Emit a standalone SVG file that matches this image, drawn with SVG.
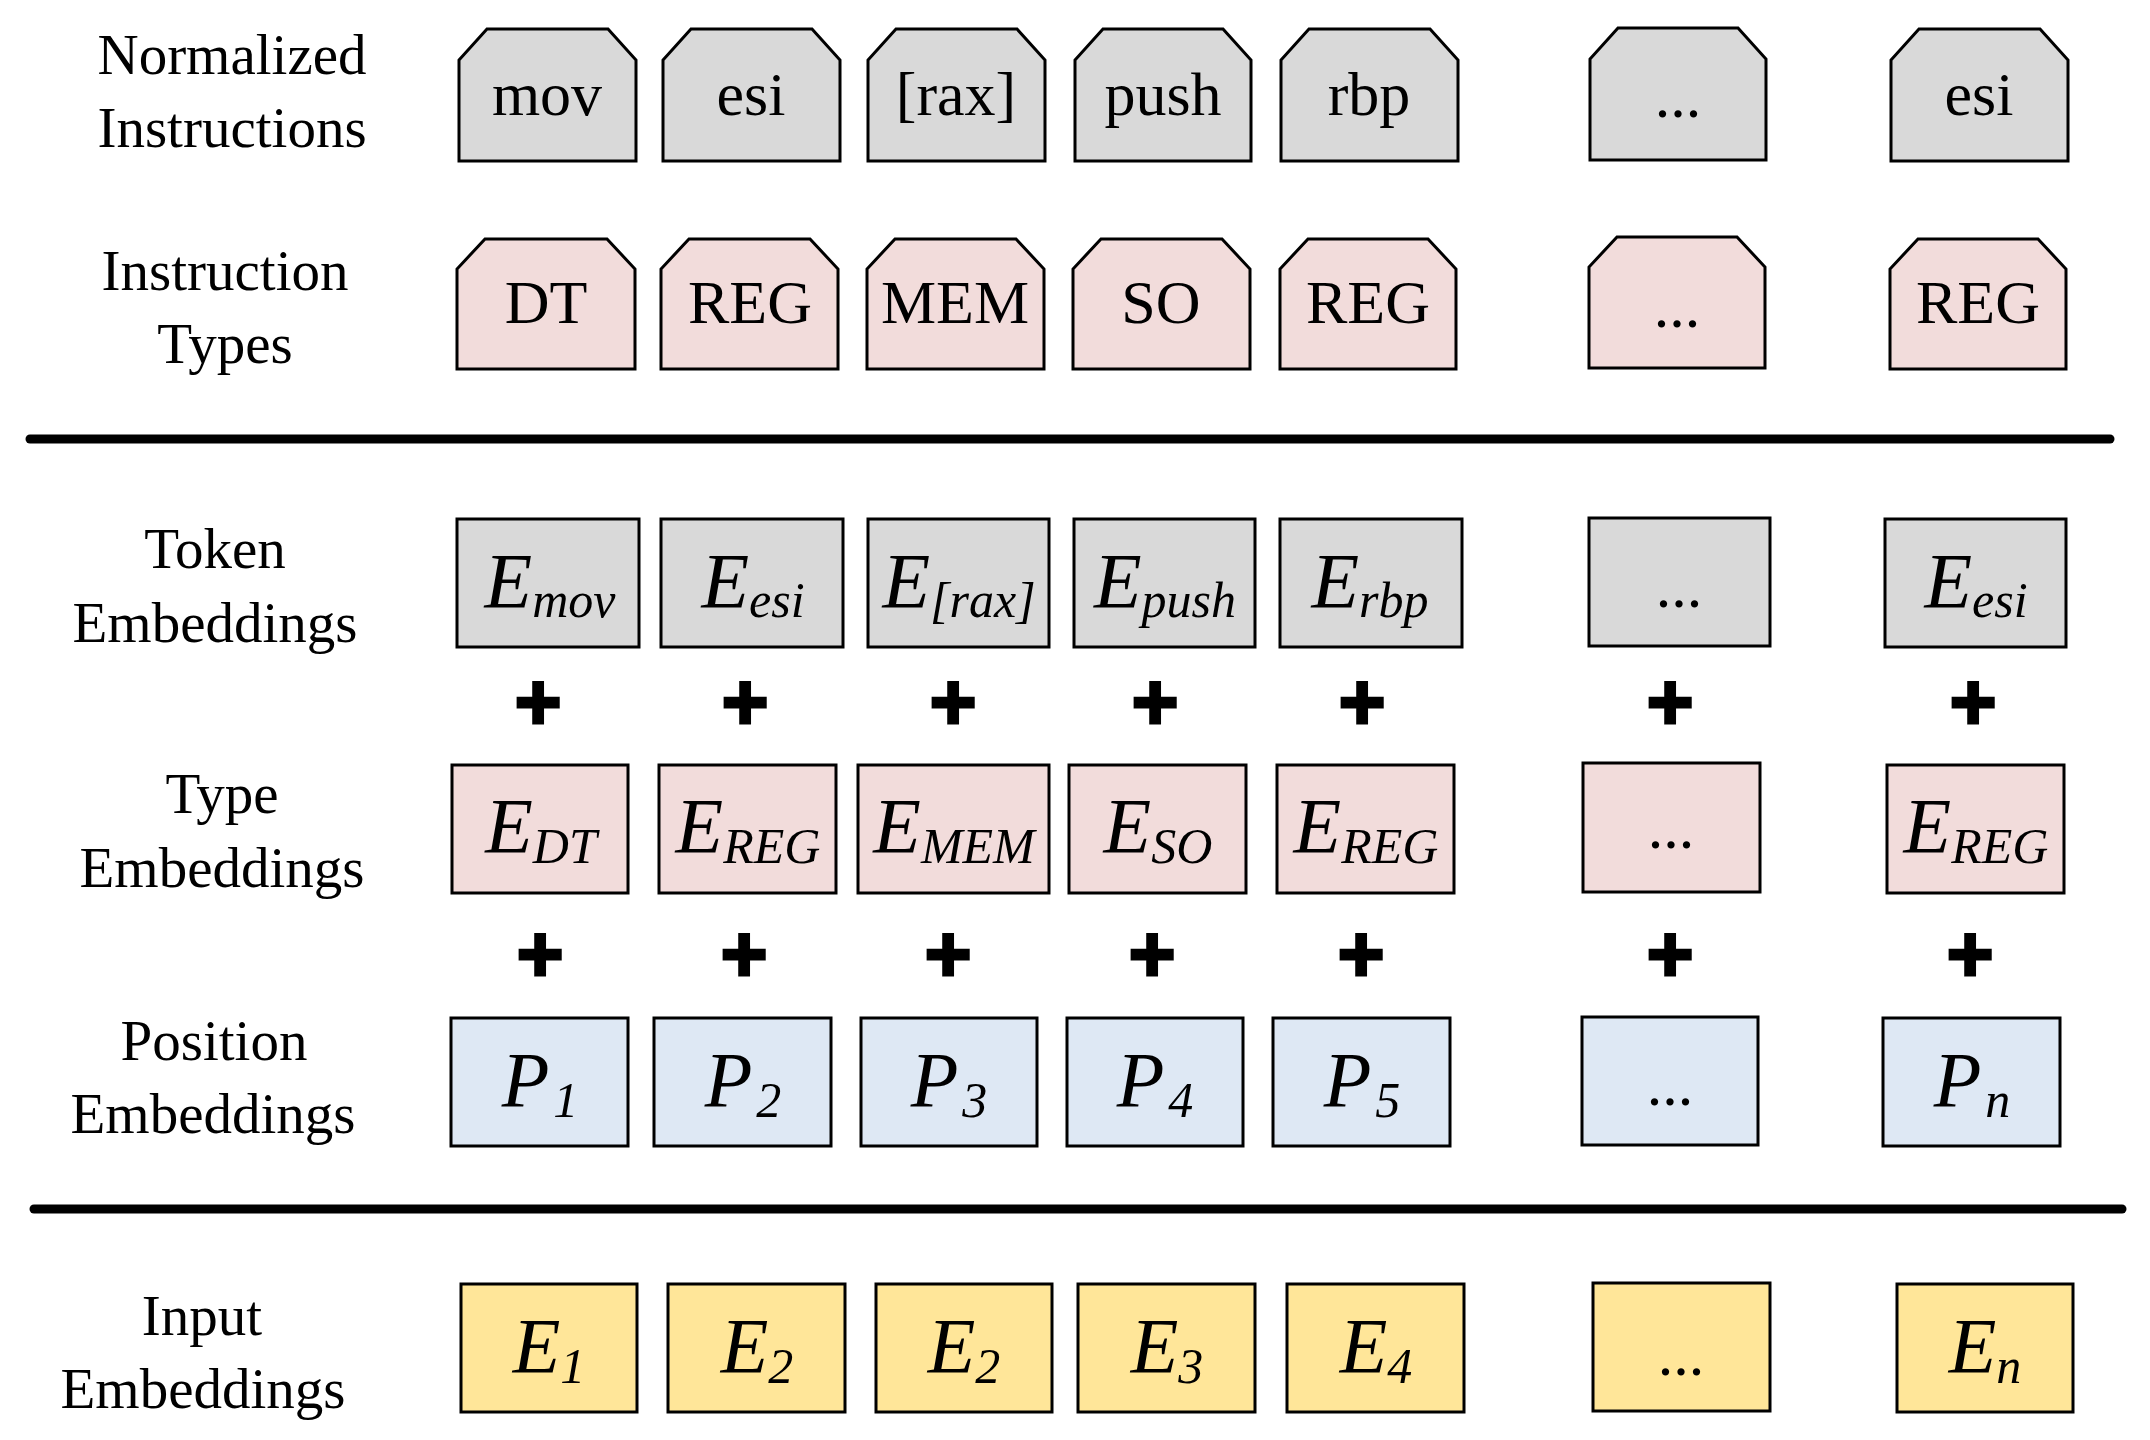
<svg xmlns="http://www.w3.org/2000/svg" width="2150" height="1440" viewBox="0 0 2150 1440">
<style>
  text{font-family:"Liberation Serif",Tinos,"Times New Roman","DejaVu Serif",serif}
  .lbl{font-size:57px;fill:#000;text-anchor:middle}
  .t{font-size:62px;fill:#000;text-anchor:middle}
  .m{font-style:italic;font-size:78px;fill:#000;text-anchor:middle}
  .sub{font-size:50px}
  .d{font-size:62px;fill:#000;text-anchor:middle}
  text.plus{font-family:"Liberation Sans",Arial,sans-serif;font-weight:bold;font-size:80px;fill:#000;stroke:#000;stroke-width:3;text-anchor:middle}
  .gray{fill:#d9d9d9;stroke:#000;stroke-width:3}
  .pink{fill:#f2dcdb;stroke:#000;stroke-width:3}
  .blue{fill:#dee8f4;stroke:#000;stroke-width:3}
  .yellow{fill:#ffe699;stroke:#000;stroke-width:3}
  .sep{stroke:#000;stroke-width:9;stroke-linecap:round}
</style>

<g id="labels">
  <text class="lbl" x="232" y="74">Normalized</text>
  <text class="lbl" x="232" y="147">Instructions</text>
  <text class="lbl" x="225" y="290">Instruction</text>
  <text class="lbl" x="225" y="363">Types</text>
  <text class="lbl" x="215" y="568">Token</text>
  <text class="lbl" x="215" y="642">Embeddings</text>
  <text class="lbl" x="222" y="813">Type</text>
  <text class="lbl" x="222" y="887">Embeddings</text>
  <text class="lbl" x="214" y="1060">Position</text>
  <text class="lbl" x="213" y="1133">Embeddings</text>
  <text class="lbl" x="202" y="1335">Input</text>
  <text class="lbl" x="203" y="1408">Embeddings</text>
</g>

<g id="separators">
  <line class="sep" x1="30" y1="439" x2="2110" y2="439"/>
  <line class="sep" x1="34" y1="1209" x2="2122" y2="1209"/>
</g>

<!-- Row 1: Normalized Instructions -->
<g id="ni1"><path class="gray" d="M487,29 H608 L636,60 V161 H459 V60 Z"/><text class="t" x="547" y="115">mov</text></g>
<g id="ni2"><path class="gray" d="M691,29 H812 L840,60 V161 H663 V60 Z"/><text class="t" x="751" y="115">esi</text></g>
<g id="ni3"><path class="gray" d="M896,29 H1017 L1045,60 V161 H868 V60 Z"/><text class="t" x="956" y="115">[rax]</text></g>
<g id="ni4"><path class="gray" d="M1103,29 H1223 L1251,60 V161 H1075 V60 Z"/><text class="t" x="1163" y="115">push</text></g>
<g id="ni5"><path class="gray" d="M1309,29 H1430 L1458,60 V161 H1281 V60 Z"/><text class="t" x="1369" y="115">rbp</text></g>
<g id="ni6"><path class="gray" d="M1618,28 H1738 L1766,59 V160 H1590 V59 Z"/><text class="d" x="1678" y="117">...</text></g>
<g id="ni7"><path class="gray" d="M1919,29 H2040 L2068,60 V161 H1891 V60 Z"/><text class="t" x="1979" y="115">esi</text></g>

<!-- Row 2: Instruction Types -->
<g id="it1"><path class="pink" d="M485,239 H607 L635,269 V369 H457 V269 Z"/><text class="t" x="546" y="323">DT</text></g>
<g id="it2"><path class="pink" d="M689,239 H810 L838,269 V369 H661 V269 Z"/><text class="t" x="750" y="323">REG</text></g>
<g id="it3"><path class="pink" d="M895,239 H1016 L1044,269 V369 H867 V269 Z"/><text class="t" x="955" y="323">MEM</text></g>
<g id="it4"><path class="pink" d="M1101,239 H1222 L1250,269 V369 H1073 V269 Z"/><text class="t" x="1161" y="323">SO</text></g>
<g id="it5"><path class="pink" d="M1308,239 H1428 L1456,269 V369 H1280 V269 Z"/><text class="t" x="1368" y="323">REG</text></g>
<g id="it6"><path class="pink" d="M1617,237 H1737 L1765,267 V368 H1589 V267 Z"/><text class="d" x="1677" y="327">...</text></g>
<g id="it7"><path class="pink" d="M1918,239 H2038 L2066,269 V369 H1890 V269 Z"/><text class="t" x="1978" y="323">REG</text></g>

<!-- Token Embeddings -->
<g id="te1"><rect class="gray" x="457" y="519" width="182" height="128"/><text class="m" x="550" y="607">E<tspan class="sub" dy="10">mov</tspan></text></g>
<g id="te2"><rect class="gray" x="661" y="519" width="182" height="128"/><text class="m" x="753" y="607">E<tspan class="sub" dy="10">esi</tspan></text></g>
<g id="te3"><rect class="gray" x="868" y="519" width="181" height="128"/><text class="m" x="959" y="607">E<tspan class="sub" dy="10">[rax]</tspan></text></g>
<g id="te4"><rect class="gray" x="1074" y="519" width="181" height="128"/><text class="m" x="1165" y="607">E<tspan class="sub" dy="10">push</tspan></text></g>
<g id="te5"><rect class="gray" x="1280" y="519" width="182" height="128"/><text class="m" x="1370" y="607">E<tspan class="sub" dy="10">rbp</tspan></text></g>
<g id="te6"><rect class="gray" x="1589" y="518" width="181" height="128"/><text class="d" x="1679" y="607">...</text></g>
<g id="te7"><rect class="gray" x="1885" y="519" width="181" height="128"/><text class="m" x="1976" y="607">E<tspan class="sub" dy="10">esi</tspan></text></g>

<!-- Type Embeddings -->
<g id="ty1"><rect class="pink" x="452" y="765" width="176" height="128"/><text class="m" x="541" y="852">E<tspan class="sub" dy="11">DT</tspan></text></g>
<g id="ty2"><rect class="pink" x="659" y="765" width="177" height="128"/><text class="m" x="748" y="852">E<tspan class="sub" dy="11">REG</tspan></text></g>
<g id="ty3"><rect class="pink" x="858" y="765" width="191" height="128"/><text class="m" x="954" y="852">E<tspan class="sub" dy="11">MEM</tspan></text></g>
<g id="ty4"><rect class="pink" x="1069" y="765" width="177" height="128"/><text class="m" x="1158" y="852">E<tspan class="sub" dy="11">SO</tspan></text></g>
<g id="ty5"><rect class="pink" x="1277" y="765" width="177" height="128"/><text class="m" x="1366" y="852">E<tspan class="sub" dy="11">REG</tspan></text></g>
<g id="ty6"><rect class="pink" x="1583" y="763" width="177" height="129"/><text class="d" x="1671" y="848">...</text></g>
<g id="ty7"><rect class="pink" x="1887" y="765" width="177" height="128"/><text class="m" x="1976" y="852">E<tspan class="sub" dy="11">REG</tspan></text></g>

<!-- Position Embeddings -->
<g id="pe1"><rect class="blue" x="451" y="1018" width="177" height="128"/><text class="m" x="540" y="1106">P<tspan class="sub" dx="4" dy="11">1</tspan></text></g>
<g id="pe2"><rect class="blue" x="654" y="1018" width="177" height="128"/><text class="m" x="743" y="1106">P<tspan class="sub" dx="4" dy="11">2</tspan></text></g>
<g id="pe3"><rect class="blue" x="861" y="1018" width="176" height="128"/><text class="m" x="949" y="1106">P<tspan class="sub" dx="4" dy="11">3</tspan></text></g>
<g id="pe4"><rect class="blue" x="1067" y="1018" width="176" height="128"/><text class="m" x="1155" y="1106">P<tspan class="sub" dx="4" dy="11">4</tspan></text></g>
<g id="pe5"><rect class="blue" x="1273" y="1018" width="177" height="128"/><text class="m" x="1362" y="1106">P<tspan class="sub" dx="4" dy="11">5</tspan></text></g>
<g id="pe6"><rect class="blue" x="1582" y="1017" width="176" height="128"/><text class="d" x="1670" y="1105">...</text></g>
<g id="pe7"><rect class="blue" x="1883" y="1018" width="177" height="128"/><text class="m" x="1972" y="1106">P<tspan class="sub" dx="4" dy="11">n</tspan></text></g>

<!-- Input Embeddings -->
<g id="ie1"><rect class="yellow" x="461" y="1284" width="176" height="128"/><text class="m" x="549" y="1372">E<tspan class="sub" dy="11">1</tspan></text></g>
<g id="ie2"><rect class="yellow" x="668" y="1284" width="177" height="128"/><text class="m" x="757" y="1372">E<tspan class="sub" dy="11">2</tspan></text></g>
<g id="ie3"><rect class="yellow" x="876" y="1284" width="176" height="128"/><text class="m" x="964" y="1372">E<tspan class="sub" dy="11">2</tspan></text></g>
<g id="ie4"><rect class="yellow" x="1078" y="1284" width="177" height="128"/><text class="m" x="1167" y="1372">E<tspan class="sub" dy="11">3</tspan></text></g>
<g id="ie5"><rect class="yellow" x="1287" y="1284" width="177" height="128"/><text class="m" x="1376" y="1372">E<tspan class="sub" dy="11">4</tspan></text></g>
<g id="ie6"><rect class="yellow" x="1593" y="1283" width="177" height="128"/><text class="d" x="1681" y="1375">...</text></g>
<g id="ie7"><rect class="yellow" x="1897" y="1284" width="176" height="128"/><text class="m" x="1985" y="1372">E<tspan class="sub" dy="11">n</tspan></text></g>

<g id="plus-signs">
  <text class="plus" x="538" y="729">+</text>
  <text class="plus" x="745" y="729">+</text>
  <text class="plus" x="953" y="729">+</text>
  <text class="plus" x="1155" y="729">+</text>
  <text class="plus" x="1362" y="729">+</text>
  <text class="plus" x="1670" y="729">+</text>
  <text class="plus" x="1973" y="729">+</text>
  <text class="plus" x="540" y="981">+</text>
  <text class="plus" x="744" y="981">+</text>
  <text class="plus" x="948" y="981">+</text>
  <text class="plus" x="1152" y="981">+</text>
  <text class="plus" x="1361" y="981">+</text>
  <text class="plus" x="1670" y="981">+</text>
  <text class="plus" x="1970" y="981">+</text>
</g>
</svg>
